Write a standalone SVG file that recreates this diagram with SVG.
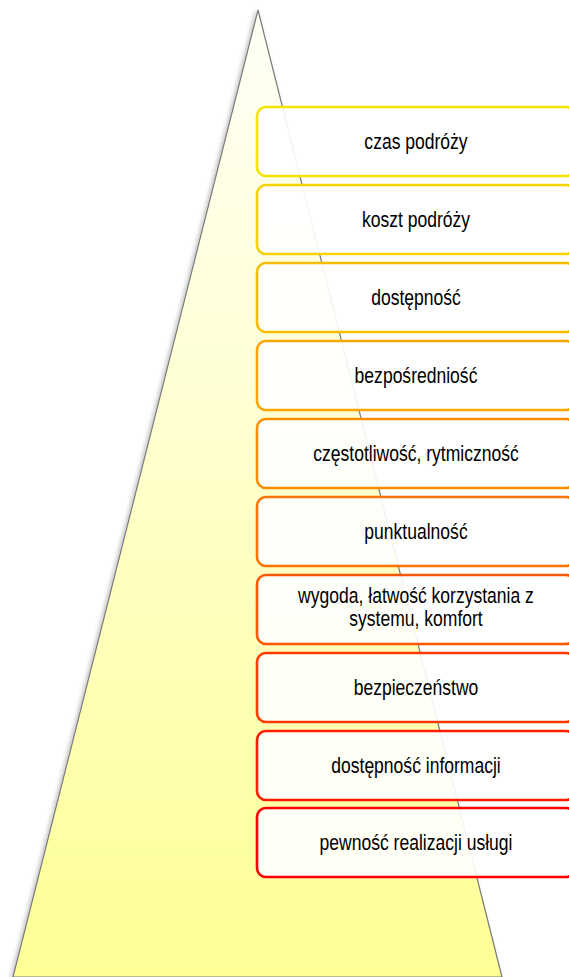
<svg xmlns="http://www.w3.org/2000/svg" width="569" height="977" viewBox="0 0 569 977">
  <defs>
    <linearGradient id="triFill" x1="0" y1="0" x2="0" y2="1">
      <stop offset="0" stop-color="#fffff6"/>
      <stop offset="0.35" stop-color="#ffffd8"/>
      <stop offset="1" stop-color="#ffff96"/>
    </linearGradient>
    <filter id="shadow" x="-10%" y="-5%" width="120%" height="110%">
      <feGaussianBlur in="SourceAlpha" stdDeviation="2"/>
      <feOffset dx="-2" dy="1" result="b"/>
      <feComponentTransfer><feFuncA type="linear" slope="0.25"/></feComponentTransfer>
      <feMerge><feMergeNode/><feMergeNode in="SourceGraphic"/></feMerge>
    </filter>
  </defs>
  <style>
    .box { fill: #ffffff; fill-opacity: 0.9; stroke-width: 2.6; }
    .lbl { font-family: "Liberation Sans", Arial, sans-serif; font-size: 21.4px; fill: #000000; text-anchor: middle; }
  </style>
  <g id="pyramid">
    <polygon points="258,10 13,977 502,977" fill="url(#triFill)" stroke="#7a7a7a" stroke-width="1.2" filter="url(#shadow)"/>
  </g>
  <g id="connectors"></g>
  <g id="n1"><rect class="box" x="257" y="107" width="318" height="69" rx="9" stroke="#f5e400"/><text class="lbl" transform="translate(416,149) scale(0.82,1)">czas podróży</text></g>
  <g id="n2"><rect class="box" x="257" y="185" width="318" height="69" rx="9" stroke="#f5d200"/><text class="lbl" transform="translate(416,227) scale(0.82,1)">koszt podróży</text></g>
  <g id="n3"><rect class="box" x="257" y="263" width="318" height="69" rx="9" stroke="#f7bd00"/><text class="lbl" transform="translate(416,305) scale(0.82,1)">dostępność</text></g>
  <g id="n4"><rect class="box" x="257" y="341" width="318" height="69" rx="9" stroke="#f9a600"/><text class="lbl" transform="translate(416,383) scale(0.82,1)">bezpośredniość</text></g>
  <g id="n5"><rect class="box" x="257" y="419" width="318" height="69" rx="9" stroke="#fb8e00"/><text class="lbl" transform="translate(416,461) scale(0.82,1)">częstotliwość, rytmiczność</text></g>
  <g id="n6"><rect class="box" x="257" y="497" width="318" height="69" rx="9" stroke="#fd7400"/><text class="lbl" transform="translate(416,539) scale(0.82,1)">punktualność</text></g>
  <g id="n7"><rect class="box" x="257" y="575" width="318" height="69" rx="9" stroke="#ff5700"/><text class="lbl" transform="translate(416,603) scale(0.82,1)">wygoda, łatwość korzystania z</text><text class="lbl" transform="translate(416,626) scale(0.82,1)">systemu, komfort</text></g>
  <g id="n8"><rect class="box" x="257" y="653" width="318" height="69" rx="9" stroke="#ff3a00"/><text class="lbl" transform="translate(416,695) scale(0.82,1)">bezpieczeństwo</text></g>
  <g id="n9"><rect class="box" x="257" y="731" width="318" height="69" rx="9" stroke="#ff1d00"/><text class="lbl" transform="translate(416,773) scale(0.82,1)">dostępność informacji</text></g>
  <g id="n10"><rect class="box" x="257" y="808" width="318" height="69" rx="9" stroke="#ff0000"/><text class="lbl" transform="translate(416,850) scale(0.82,1)">pewność realizacji usługi</text></g>
</svg>
